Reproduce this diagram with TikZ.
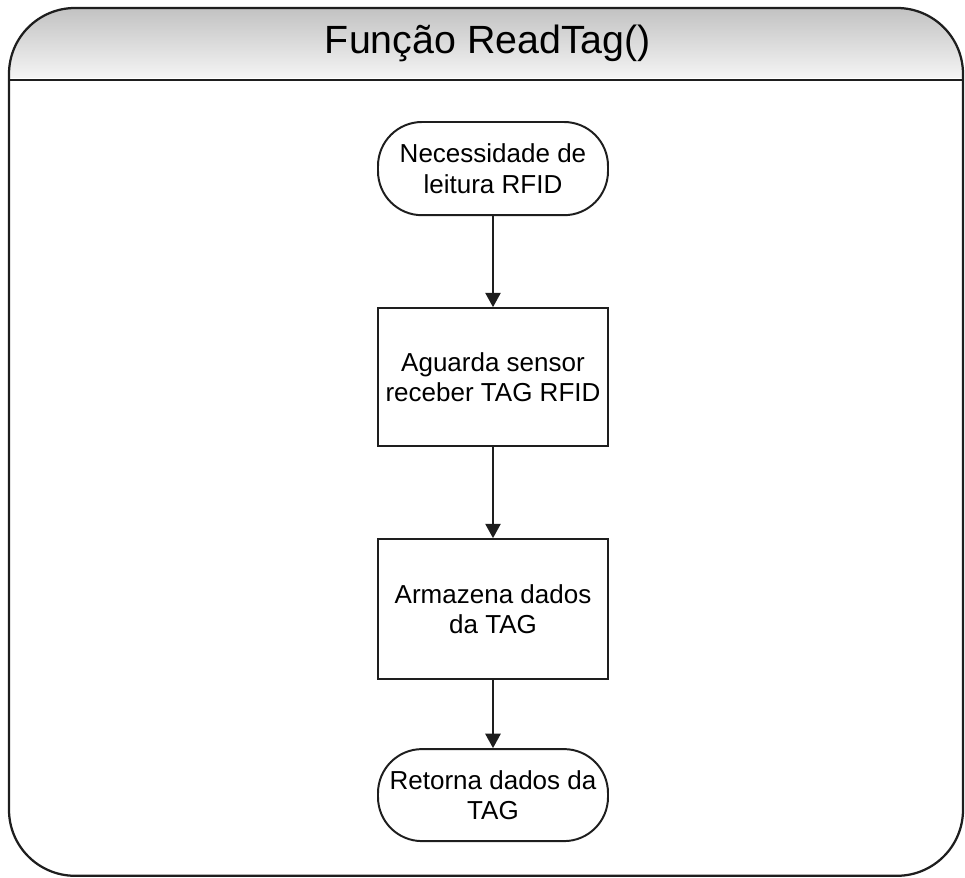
\documentclass[tikz,border=0pt]{standalone}
\usepackage{fontspec}
\setmainfont{Liberation Sans}
\usepackage{xcolor}
\definecolor{lnedark}{RGB}{30,30,30}
\definecolor{hdrtop}{RGB}{192,192,192}
\definecolor{hdrbot}{RGB}{244,244,244}
\usetikzlibrary{arrows.meta, positioning}

\tikzset{
  boxfont/.style={font=\fontsize{18.5}{21.5}\selectfont},
  termbox/.style={draw=lnedark, line width=1.4pt, rounded corners=1.1cm,
    minimum width=5.75cm, minimum height=2.33cm, inner sep=0pt, align=center, boxfont},
  procbox/.style={draw=lnedark, line width=1.4pt,
    minimum width=5.75cm, minimum height=3.45cm, inner sep=0pt, align=center, boxfont},
  flowarrow/.style={-{Triangle[length=0.36cm,width=0.38cm]}, line width=1.5pt, lnedark}
}

\begin{document}
\begin{tikzpicture}
  \useasboundingbox (0,0) rectangle (24.125,21.925);

  % Header band with gradient, clipped to the frame
  \begin{scope}
    \clip[rounded corners=1.65cm] (0.225,0.03) rectangle (24.075,21.725);
    \shade[top color=hdrtop, bottom color=hdrbot] (0,19.98) rectangle (24.125,21.8);
  \end{scope}
  \draw[lnedark, line width=1.8pt] (0.225,19.925) -- (24.075,19.925);
  \draw[lnedark, line width=1.6pt, rounded corners=1.65cm] (0.225,0.03) rectangle (24.075,21.725);
  \node[font=\fontsize{28}{32}\selectfont] (title) at (12.2,20.85) {Função ReadTag()};

  % Flow
  \node[termbox] (need) at (12.325,17.71) {Necessidade de\\leitura RFID};
  \node[procbox, below=2.275cm of need] (wait) {Aguarda sensor\\receber TAG RFID};
  \node[procbox, minimum height=3.5cm, below=2.275cm of wait] (store) {Armazena dados\\da TAG};
  \node[termbox, minimum height=2.3cm, below=1.7cm of store] (ret) {Retorna dados da\\TAG};

  \draw[flowarrow] (need) -- (wait);
  \draw[flowarrow] (wait) -- (store);
  \draw[flowarrow] (store) -- (ret);
\end{tikzpicture}
\end{document}
